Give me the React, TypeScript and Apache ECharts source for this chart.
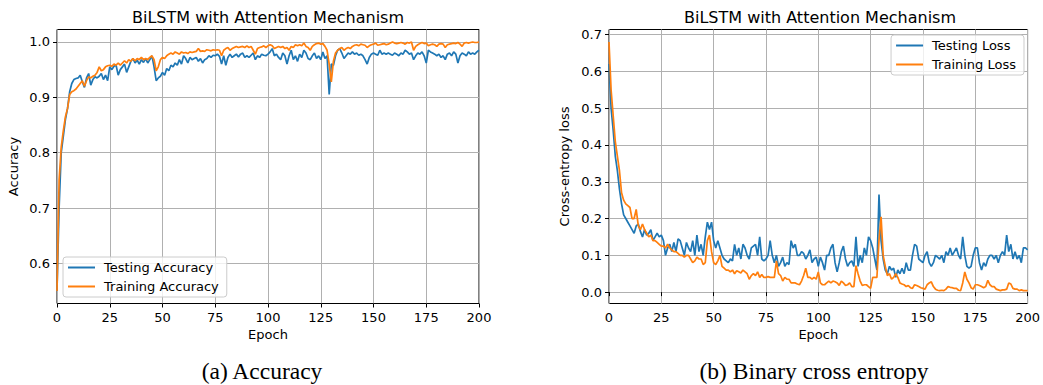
import React, { useEffect, useRef } from "react";
import * as echarts from "echarts";

// Epoch 0..200
const testAcc = [
  0.55, 0.70, 0.80, 0.83, 0.86, 0.88, 0.91, 0.925, 0.932, 0.934,
  0.935, 0.940, 0.928, 0.918, 0.935, 0.943, 0.922, 0.932, 0.937, 0.935,
  0.938, 0.943, 0.932, 0.940, 0.930, 0.955, 0.950, 0.956, 0.958, 0.940,
  0.950, 0.955, 0.960, 0.945, 0.955, 0.965, 0.970, 0.962, 0.967, 0.960,
  0.968, 0.963, 0.970, 0.962, 0.968, 0.975, 0.955, 0.930, 0.935, 0.938,
  0.945, 0.940, 0.952, 0.948, 0.958, 0.955, 0.962, 0.958, 0.968, 0.960,
  0.975, 0.970, 0.962, 0.972, 0.968, 0.970, 0.972, 0.965, 0.970, 0.962,
  0.968, 0.970, 0.975, 0.972, 0.976, 0.975, 0.978, 0.974, 0.960, 0.975,
  0.958, 0.972, 0.978, 0.972, 0.975, 0.978, 0.973, 0.978, 0.980, 0.972,
  0.975, 0.972, 0.976, 0.980, 0.968, 0.975, 0.972, 0.978, 0.976, 0.975,
  0.978, 0.982, 0.988, 0.975, 0.978, 0.972, 0.968, 0.980, 0.975, 0.960,
  0.975, 0.985, 0.968, 0.975, 0.965, 0.978, 0.972, 0.985, 0.980, 0.970,
  0.968, 0.975, 0.980, 0.970, 0.975, 0.968, 0.982, 0.970, 0.975, 0.905,
  0.960, 0.958, 0.975, 0.985, 0.988, 0.980, 0.970, 0.975, 0.980, 0.978,
  0.982, 0.978, 0.980, 0.976, 0.978, 0.975, 0.968, 0.960, 0.972, 0.978,
  0.980, 0.978, 0.976, 0.985, 0.978, 0.980, 0.978, 0.980, 0.978, 0.976,
  0.980, 0.978, 0.975, 0.980, 0.978, 0.985, 0.982, 0.978, 0.980, 0.968,
  0.975, 0.980, 0.978, 0.982, 0.975, 0.962, 0.985, 0.982, 0.980, 0.978,
  0.975, 0.978, 0.972, 0.975, 0.968, 0.978, 0.980, 0.975, 0.982, 0.978,
  0.962, 0.975, 0.980, 0.978, 0.975, 0.982, 0.978, 0.980, 0.978, 0.982,
  0.985,
];

const trainAcc = [
  0.55, 0.75, 0.81, 0.84, 0.865, 0.88, 0.905, 0.910, 0.912, 0.915,
  0.920, 0.925, 0.930, 0.920, 0.930, 0.937, 0.935, 0.938, 0.940, 0.945,
  0.955, 0.948, 0.950, 0.955, 0.957, 0.958, 0.956, 0.960, 0.958, 0.962,
  0.958, 0.962, 0.966, 0.962, 0.968, 0.965, 0.970, 0.966, 0.970, 0.968,
  0.972, 0.968, 0.970, 0.968, 0.972, 0.975, 0.968, 0.948, 0.955, 0.968,
  0.972, 0.970, 0.975, 0.978, 0.980, 0.978, 0.982, 0.980, 0.978, 0.982,
  0.980, 0.981, 0.979, 0.982, 0.981, 0.982, 0.983, 0.988, 0.983, 0.984,
  0.983, 0.986, 0.985, 0.984, 0.986, 0.985, 0.986, 0.985, 0.975, 0.985,
  0.988, 0.990, 0.985, 0.988, 0.990, 0.992, 0.990, 0.991, 0.992, 0.990,
  0.993, 0.990, 0.992, 0.985, 0.978, 0.988, 0.990, 0.991, 0.993, 0.990,
  0.993, 0.995, 0.993, 0.988, 0.990, 0.992, 0.990, 0.992, 0.988, 0.990,
  0.985, 0.992, 0.990, 0.995, 0.993, 0.995, 0.993, 0.998, 0.992, 0.990,
  0.985, 0.992, 0.995, 0.997, 0.998, 0.996, 0.997, 0.992, 0.985, 0.960,
  0.928, 0.965, 0.980, 0.985, 0.988, 0.990, 0.985, 0.988, 0.990, 0.988,
  0.992, 0.994, 0.995, 0.993, 0.996, 0.995, 0.994, 0.990, 0.993, 0.995,
  0.996, 0.998, 0.994, 0.995, 0.996, 0.997, 0.995, 0.996, 0.998, 1.000,
  0.998, 0.997, 0.998, 0.999, 0.998, 0.996, 0.999, 0.998, 1.000, 0.985,
  0.992, 0.995, 0.997, 0.999, 0.997, 0.998, 0.993, 0.995, 0.996, 0.995,
  0.992, 0.996, 0.997, 0.996, 0.990, 0.995, 0.996, 0.997, 0.998, 0.997,
  0.999, 0.996, 0.992, 0.998, 0.999, 0.998, 0.999, 1.000, 0.999, 0.999,
  1.000,
];

const testLoss = [
  0.62, 0.50, 0.44, 0.37, 0.33, 0.28, 0.24, 0.21, 0.20, 0.19,
  0.18, 0.17, 0.16, 0.18, 0.185, 0.165, 0.15, 0.17, 0.155, 0.16,
  0.17, 0.14, 0.15, 0.16, 0.15, 0.155, 0.14, 0.10, 0.12, 0.13,
  0.11, 0.135, 0.11, 0.145, 0.14, 0.12, 0.10, 0.135, 0.12, 0.11,
  0.14, 0.10, 0.155, 0.11, 0.13, 0.10, 0.15, 0.19, 0.17, 0.19,
  0.14, 0.12, 0.14, 0.12, 0.10, 0.09, 0.085, 0.08, 0.09, 0.085,
  0.13, 0.10, 0.12, 0.09, 0.13, 0.12, 0.10, 0.09, 0.12, 0.125,
  0.13, 0.10, 0.15, 0.09, 0.085, 0.09, 0.10, 0.14, 0.10, 0.08,
  0.10, 0.07, 0.08, 0.095, 0.07, 0.08, 0.075, 0.14, 0.12, 0.13,
  0.10, 0.10, 0.11, 0.105, 0.09, 0.10, 0.115, 0.08, 0.09, 0.095,
  0.07, 0.095, 0.08, 0.06, 0.10, 0.10, 0.12, 0.13, 0.08, 0.055,
  0.08, 0.11, 0.125, 0.09, 0.07, 0.08, 0.085, 0.07, 0.15, 0.07,
  0.10, 0.08, 0.12, 0.10, 0.15, 0.14, 0.12, 0.09, 0.06, 0.265,
  0.14, 0.09, 0.06, 0.05, 0.07, 0.06, 0.065, 0.04, 0.06, 0.05,
  0.065, 0.05, 0.08, 0.06, 0.06, 0.10, 0.13, 0.125, 0.09, 0.085,
  0.08, 0.10, 0.11, 0.08, 0.07, 0.08, 0.10, 0.095, 0.09, 0.10,
  0.08, 0.11, 0.10, 0.12, 0.10, 0.11, 0.12, 0.10, 0.09, 0.15,
  0.10, 0.07, 0.065, 0.07, 0.10, 0.12, 0.12, 0.08, 0.06, 0.08,
  0.07, 0.09, 0.10, 0.10, 0.09, 0.10, 0.08, 0.10, 0.11, 0.10,
  0.155, 0.11, 0.13, 0.09, 0.11, 0.09, 0.10, 0.08, 0.12, 0.12,
  0.115,
];

const trainLoss = [
  0.68, 0.55, 0.48, 0.41, 0.37, 0.33, 0.27, 0.25, 0.24, 0.235,
  0.23, 0.20, 0.20, 0.225, 0.18, 0.17, 0.185, 0.17, 0.16, 0.15,
  0.155, 0.14, 0.14, 0.135, 0.13, 0.125, 0.125, 0.12, 0.13, 0.12,
  0.115, 0.11, 0.11, 0.105, 0.10, 0.10, 0.095, 0.10, 0.10, 0.09,
  0.08, 0.085, 0.095, 0.09, 0.09, 0.075, 0.08, 0.14, 0.155, 0.11,
  0.08, 0.075, 0.085, 0.10, 0.07, 0.065, 0.06, 0.06, 0.055, 0.06,
  0.05, 0.058, 0.055, 0.052, 0.06, 0.055, 0.05, 0.035, 0.045, 0.05,
  0.045, 0.055, 0.04, 0.048, 0.04, 0.04, 0.042, 0.04, 0.04, 0.04,
  0.085, 0.05, 0.045, 0.03, 0.04, 0.035, 0.035, 0.025, 0.025, 0.025,
  0.022, 0.02, 0.03, 0.045, 0.065, 0.04, 0.04, 0.035, 0.04, 0.035,
  0.055, 0.025, 0.02, 0.02, 0.025, 0.03, 0.025, 0.03, 0.028, 0.025,
  0.018, 0.03, 0.025, 0.018, 0.02, 0.025, 0.015, 0.015, 0.072, 0.05,
  0.03, 0.018, 0.02, 0.02, 0.015, 0.01, 0.04, 0.04, 0.04, 0.14,
  0.205, 0.10, 0.07, 0.045, 0.05, 0.035, 0.04, 0.05, 0.04, 0.025,
  0.022, 0.02, 0.015, 0.018, 0.012, 0.01, 0.02, 0.018, 0.015, 0.012,
  0.01, 0.008, 0.02, 0.025, 0.028, 0.015, 0.008, 0.005, 0.004, 0.005,
  0.004, 0.008, 0.015, 0.013, 0.012, 0.01, 0.01, 0.005, 0.004, 0.025,
  0.055, 0.035, 0.025, 0.012, 0.008, 0.02, 0.02, 0.018, 0.015, 0.012,
  0.015, 0.032, 0.02, 0.015, 0.015, 0.008, 0.006, 0.004, 0.006, 0.006,
  0.008, 0.025, 0.022, 0.01, 0.008, 0.008, 0.004, 0.006, 0.004, 0.004,
  0.004,
];

const epochTicks = [0, 25, 50, 75, 100, 125, 150, 175, 200];
const accTicks = [0.6, 0.7, 0.8, 0.9, 1.0];
const lossTicks = [0.0, 0.1, 0.2, 0.3, 0.4, 0.5, 0.6, 0.7];

const titleText = "BiLSTM with Attention Mechanism";
const captionA = "(a) Accuracy";
const captionB = "(b) Binary cross entropy";

const FONT = "DejaVu Sans";
const FS = 13;
const BLUE = "#1f77b4";
const ORANGE = "#ff7f0e";

function pairs(arr: number[]) {
  return arr.map((v, i) => [i, v]);
}

function xAxisCfg(gridIndex: number) {
  return {
    gridIndex,
    type: "value",
    min: epochTicks[0],
    max: epochTicks[epochTicks.length - 1],
    interval: 25,
    name: "Epoch",
    nameLocation: "middle",
    nameGap: 24,
    nameTextStyle: { fontSize: FS, color: "#000", fontFamily: FONT },
    axisLine: { show: false },
    axisTick: { show: true, length: 4, lineStyle: { color: "#000", width: 1 } },
    axisLabel: { fontSize: FS, color: "#000", fontFamily: FONT, margin: 7 },
    splitLine: { show: true, lineStyle: { color: "#b0b0b0", width: 1 } },
  };
}

function yAxisCfg(gridIndex: number, min: number, max: number, ticks: number[], name: string, nameGap: number) {
  return {
    gridIndex,
    type: "value",
    min,
    max,
    splitNumber: 7,
    name,
    nameLocation: "middle",
    nameGap,
    nameTextStyle: { fontSize: FS, color: "#000", fontFamily: FONT },
    axisLine: { show: false },
    axisTick: {
      show: true,
      length: 4,
      lineStyle: { color: "#000", width: 1 },
      customValues: ticks,
    },
    axisLabel: {
      fontSize: FS,
      color: "#000",
      fontFamily: FONT,
      margin: 7,
      customValues: ticks,
      formatter: (v: number) => v.toFixed(1),
    },
    splitLine: { show: true, lineStyle: { color: "#b0b0b0", width: 1 } },
  };
}

function legendCfg(pos: any, names: string[]) {
  return {
    ...pos,
    orient: "vertical",
    data: names,
    icon: "rect",
    itemWidth: 27,
    itemHeight: 2,
    itemGap: 6,
    textStyle: { fontSize: FS, fontFamily: FONT, color: "#000", padding: [0, 0, 0, 4] },
    borderColor: "#cccccc",
    borderWidth: 1,
    borderRadius: 3,
    padding: [4, 8, 4, 5],
    backgroundColor: "rgba(255,255,255,0.8)",
  };
}

function lineSeries(name: string, data: number[], color: string, idx: number) {
  return {
    name,
    type: "line",
    xAxisIndex: idx,
    yAxisIndex: idx,
    data: pairs(data),
    showSymbol: false,
    symbol: "none",
    color,
    lineStyle: { color, width: 1.7 },
  };
}

export default function App() {
  const ref = useRef<HTMLDivElement>(null);
  useEffect(() => {
    document.body.style.margin = "0";
    const chart = echarts.init(ref.current!, null, { renderer: "svg" });
    chart.setOption({
      animation: false,
      textStyle: { fontFamily: FONT },
      grid: [
        { left: 57, top: 29.5, width: 422, height: 274, show: true, borderColor: "#000", borderWidth: 1, backgroundColor: "transparent" },
        { left: 609, top: 29.5, width: 421.5, height: 274, show: true, borderColor: "#000", borderWidth: 1, backgroundColor: "transparent" },
      ],
      xAxis: [xAxisCfg(0), xAxisCfg(1)],
      yAxis: [
        yAxisCfg(0, 0.5275, 1.0225, accTicks, "Accuracy", 37),
        yAxisCfg(1, -0.031, 0.714, lossTicks, "Cross-entropy loss", 38),
      ],
      legend: [
        legendCfg({ left: 63, top: 257 }, ["Testing Accuracy", "Training Accuracy"]),
        legendCfg({ right: 19, top: 35 }, ["Testing Loss", "Training Loss"]),
      ],
      series: [
        lineSeries("Testing Accuracy", testAcc, BLUE, 0),
        lineSeries("Training Accuracy", trainAcc, ORANGE, 0),
        lineSeries("Testing Loss", testLoss, BLUE, 1),
        lineSeries("Training Loss", trainLoss, ORANGE, 1),
      ],
      graphic: [
        { type: "text", x: 268, y: 17, style: { text: titleText, fontSize: 16, fontFamily: FONT, fill: "#000", align: "center", verticalAlign: "middle" } },
        { type: "text", x: 820, y: 17, style: { text: titleText, fontSize: 16, fontFamily: FONT, fill: "#000", align: "center", verticalAlign: "middle" } },
        { type: "text", x: 262, y: 371, style: { text: captionA, fontSize: 23.5, fontFamily: "Liberation Serif", fill: "#000", align: "center", verticalAlign: "middle" } },
        { type: "text", x: 814, y: 371, style: { text: captionB, fontSize: 23.5, fontFamily: "Liberation Serif", fill: "#000", align: "center", verticalAlign: "middle" } },
      ],
    });
    return () => chart.dispose();
  }, []);
  return <div ref={ref} style={{ width: 1043, height: 385 }} />;
}
